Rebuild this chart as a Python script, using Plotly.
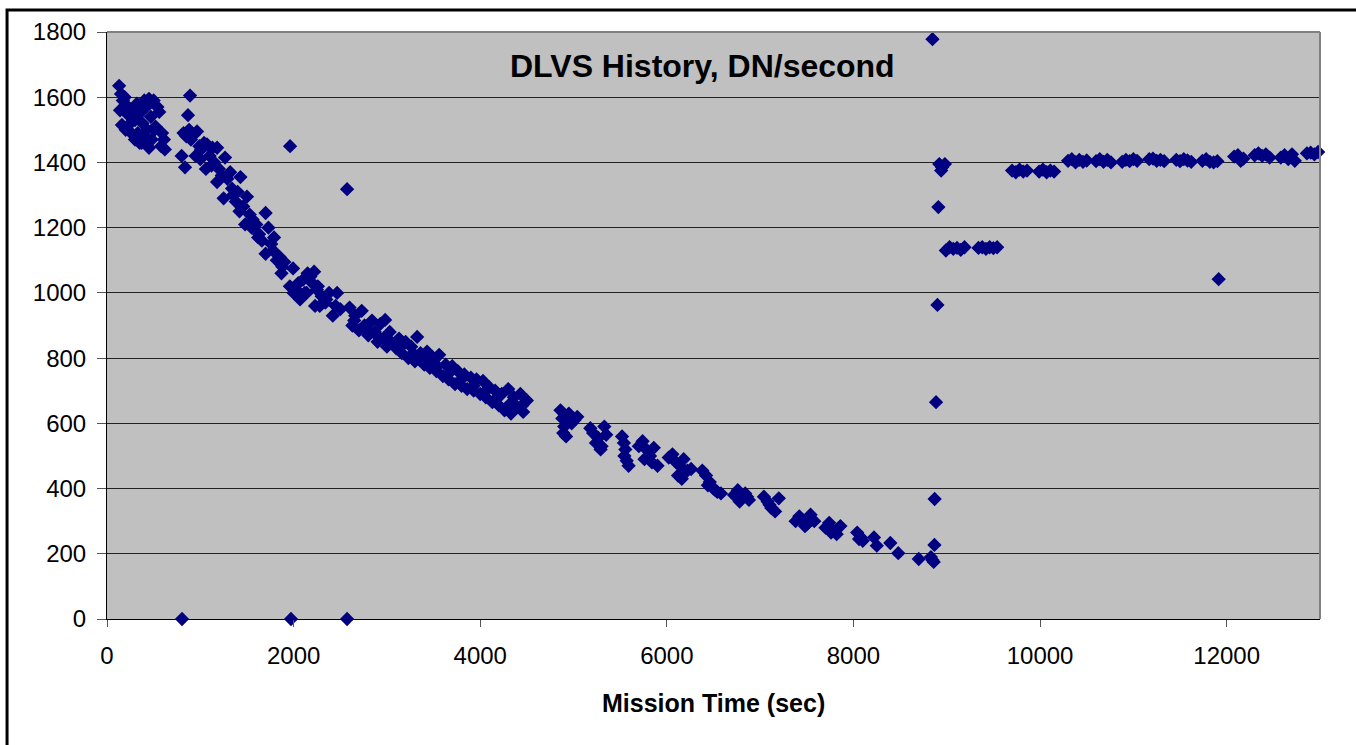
#!/usr/bin/env python
# coding: utf-8

"""
Scatter plot of DLVS history (DN/second) against mission time.
"""

import plotly.graph_objects as go

## Data

# early cluster
early_t = [130, 150, 170, 140, 190, 210, 160, 230, 250, 200, 280, 300, 260, 320, 350,
           330, 380, 400, 370, 420, 450, 430, 470, 500, 480, 520, 540, 560, 590, 610,
           620, 580, 350, 300, 400, 450, 510, 250]
early_dn = [1635, 1610, 1590, 1560, 1600, 1575, 1515, 1545, 1520, 1500, 1560, 1530, 1490,
            1580, 1550, 1490, 1520, 1590, 1460, 1570, 1595, 1500, 1540, 1590, 1470, 1510,
            1570, 1555, 1490, 1470, 1440, 1450, 1460, 1470, 1480, 1445, 1500, 1550]

# first fall-off
fall_t = [890, 868, 800, 820, 836, 850, 880, 900, 930, 965, 990, 1010, 1040, 1072, 1100,
          1130, 1150, 1180, 1200, 1230, 1265, 1290, 1320, 1350, 1380, 1400, 1430, 1460,
          1500, 1530, 1560, 1600, 1630, 1660, 1700, 1730, 1760, 1790, 1820, 1850, 1880,
          1900, 950, 1000, 1060, 1120, 1180, 1250, 1340, 1420, 1480, 1550, 1620, 1700, 1780]
fall_dn = [1605, 1545, 1420, 1490, 1385, 1480, 1500, 1470, 1485, 1495, 1450, 1440, 1460,
           1455, 1420, 1445, 1400, 1445, 1380, 1360, 1415, 1350, 1370, 1300, 1280, 1310,
           1355, 1265, 1295, 1240, 1225, 1210, 1180, 1160, 1245, 1200, 1150, 1170, 1100,
           1110, 1080, 1095, 1420, 1410, 1380, 1390, 1340, 1290, 1320, 1250, 1210, 1200,
           1170, 1120, 1130]

# around 1000 DN
knee_t = [1870, 1960, 1994, 2030, 2069, 2100, 2140, 2180, 2200, 2230, 2260, 2300, 2340,
          2380, 2420, 2466, 2500, 2050, 2150, 2250, 2350, 2450, 2000, 2120, 2280, 2220]
knee_dn = [1060, 1020, 1075, 1010, 980, 1040, 1000, 1050, 1030, 960, 1020, 990, 970, 1000,
           930, 1000, 950, 1030, 1060, 1010, 980, 960, 1000, 1000, 960, 1065]

# dense band down to ~4500 s
band_t = [2600, 2630, 2660, 2700, 2730, 2760, 2800, 2840, 2870, 2900, 2930, 2960, 2981,
          3000, 3030, 3060, 3100, 3130, 3160, 3200, 3230, 3260, 3300, 3324, 3360, 3400,
          3430, 3460, 3500, 3530, 3560, 3600, 3630, 3660, 3700, 3730, 3760, 3800, 3830,
          3860, 3900, 3930, 3960, 4000, 4030, 4060, 4100, 4130, 4160, 4200, 4230, 4260,
          4300, 4330, 4360, 4400, 4430, 4460, 4500,
          2650, 2780, 2890, 3020, 3150, 3280, 3410, 3540, 3670, 3800, 3930, 4060, 4190,
          4320, 4450]
band_dn = [955, 900, 930, 885, 945, 900, 870, 915, 880, 850, 905, 860, 917,
           835, 880, 845, 830, 860, 815, 850, 800, 835, 790, 865, 815, 780,
           820, 770, 800, 760, 810, 745, 780, 735, 775, 720, 760, 715, 750,
           705, 740, 700, 735, 690, 730, 680, 710, 665, 700, 655, 690, 640,
           705, 630, 680, 650, 690, 635, 670,
           915, 890, 870, 855, 835, 815, 795, 775, 755, 735, 715, 700, 680,
           660, 655]

# later clusters, down to the minimum near 8800 s
late_t = [4860, 4880, 4900, 4920, 4950, 4980, 5010, 5040, 4890, 4930,
          5180, 5210, 5240, 5265, 5290, 5330, 5300, 5350,
          5520, 5540, 5555, 5545, 5570, 5590,
          5700, 5740, 5780, 5820, 5860, 5900, 5760, 5840,
          6020, 6060, 6100, 6140, 6180, 6220, 6260, 6120, 6160,
          6380, 6420, 6460, 6500, 6540, 6580, 6440, 6520,
          6720, 6760, 6800, 6840, 6880, 6780, 6860,
          7040, 7080, 7120, 7160, 7200, 7100,
          7380, 7420, 7460, 7500, 7540, 7580, 7480,
          7700, 7740, 7780, 7820, 7860, 7760,
          8040, 8060, 8080, 8100, 8220, 8250, 8395, 8480, 8700, 8830, 8860]
late_dn = [640, 615, 590, 560, 630, 600, 610, 620, 570, 600,
           585, 570, 540, 555, 520, 590, 530, 565,
           560, 540, 520, 500, 485, 470,
           530, 545, 520, 500, 525, 470, 490, 480,
           495, 505, 480, 470, 490, 455, 460, 440, 430,
           455, 440, 420, 400, 390, 385, 410, 395,
           380, 395, 370, 385, 365, 360, 375,
           375, 360, 340, 330, 370, 350,
           300, 315, 300, 290, 320, 300, 285,
           280, 295, 270, 260, 285, 265,
           265, 245, 250, 240, 250, 225, 233, 202, 184, 190, 175]

# jump near 8900 s
jump_t = [8845, 8868, 8870, 8885, 8900, 8910, 8920, 8950, 8980, 8940, 8847]
jump_dn = [181, 227, 368, 665, 963, 1263, 1395, 1385, 1395, 1375, 1778]

# plateaus after the jump
plat_t = [8990, 9030, 9070, 9110, 9150, 9190,
          9340, 9380, 9420, 9460, 9500, 9540,
          9700, 9740, 9780, 9820, 9860, 9990, 10030, 10070, 10110, 10150,
          10300, 10340, 10380, 10420, 10460, 10500,
          10600, 10640, 10680, 10720, 10760,
          10880, 10920, 10960, 11000, 11040,
          11170, 11210, 11250, 11290, 11330,
          11460, 11500, 11540, 11580, 11620,
          11740, 11780, 11820, 11860, 11900,
          12080, 12120, 12150, 12180,
          12300, 12340, 12380, 12420, 12460,
          12580, 12620, 12660, 12700, 12730,
          12860, 12900, 12940, 12980, 13020]
plat_dn = [1130, 1140, 1135, 1138, 1132, 1140,
           1138, 1140, 1135, 1140, 1137, 1140,
           1375, 1370, 1378, 1372, 1375, 1372, 1378, 1370, 1375, 1372,
           1405, 1410, 1400, 1408, 1402, 1406,
           1404, 1410, 1402, 1408, 1400,
           1402, 1408, 1404, 1410, 1405,
           1410, 1412, 1405, 1408, 1404,
           1408, 1404, 1410, 1406, 1402,
           1405, 1410, 1402, 1400, 1404,
           1418, 1422, 1405, 1412,
           1422, 1428, 1420, 1425, 1415,
           1415, 1422, 1410, 1425, 1405,
           1428, 1430, 1425, 1432, 1428]

# stray points
stray_t = [1962, 2573, 804, 1972, 2573, 11914]
stray_dn = [1450, 1318, 0, 0, 0, 1042]

time_sec = early_t + fall_t + knee_t + band_t + late_t + jump_t + plat_t + stray_t
dn_rate = early_dn + fall_dn + knee_dn + band_dn + late_dn + jump_dn + plat_dn + stray_dn

x_ticks = [0, 2000, 4000, 6000, 8000, 10000, 12000]
y_ticks = [0, 200, 400, 600, 800, 1000, 1200, 1400, 1600, 1800]

## Figure

font_family = "Liberation Sans, Arial, sans-serif"

fig = go.Figure()
fig.add_trace(go.Scatter(
    x=time_sec, y=dn_rate, mode="markers", cliponaxis=False,
    marker=dict(symbol="diamond", size=11, color="#000080", line=dict(width=0)),
    showlegend=False,
))

fig.update_layout(
    width=1356, height=745,
    margin=dict(l=107, r=36, t=32, b=126),
    paper_bgcolor="white", plot_bgcolor="#C0C0C0",
    font=dict(family=font_family, size=24, color="black"),
    xaxis=dict(range=[0, 13000], tickvals=x_ticks, ticktext=[str(v) for v in x_ticks],
               showgrid=False, zeroline=False,
               showline=True, linecolor="black", linewidth=1,
               ticks="outside", ticklen=7, tickcolor="#555555", tickwidth=1,
               ticklabelstandoff=8),
    yaxis=dict(range=[0, 1800], tickvals=y_ticks, showgrid=True, gridcolor="#222222",
               gridwidth=1, zeroline=False,
               showline=True, linecolor="black", linewidth=1,
               ticks="outside", ticklen=9, tickcolor="#555555", tickwidth=1,
               ticklabelstandoff=6),
)

# gray border on top and right of the plot area
fig.add_shape(type="line", xref="paper", yref="paper", x0=0, x1=1, y0=1, y1=1,
              line=dict(color="#808080", width=2))
fig.add_shape(type="line", xref="paper", yref="paper", x0=1, x1=1, y0=0, y1=1,
              line=dict(color="#808080", width=2))

# outer chart border (runs off the right and bottom of the picture)
fig.add_shape(type="rect", xref="paper", yref="paper",
              x0=-0.0824, x1=1.1, y0=-0.3, y1=1.0375,
              line=dict(color="black", width=3), layer="below")

# title inside the plot area and x-axis title
fig.add_annotation(text="<b>DLVS History, DN/second</b>", xref="paper", yref="paper",
                   x=0.4913, y=0.942, yanchor="middle", showarrow=False,
                   font=dict(size=32))
fig.add_annotation(text="<b>Mission Time (sec)</b>", xref="paper", yref="paper",
                   x=0.4997, y=-0.143, yanchor="middle", showarrow=False,
                   font=dict(size=25))

# drop the default page margin so the chart sits at the window corner
fig.write_html("out.html", config={"displayModeBar": False},
               post_script="document.body.style.margin = '0';")
